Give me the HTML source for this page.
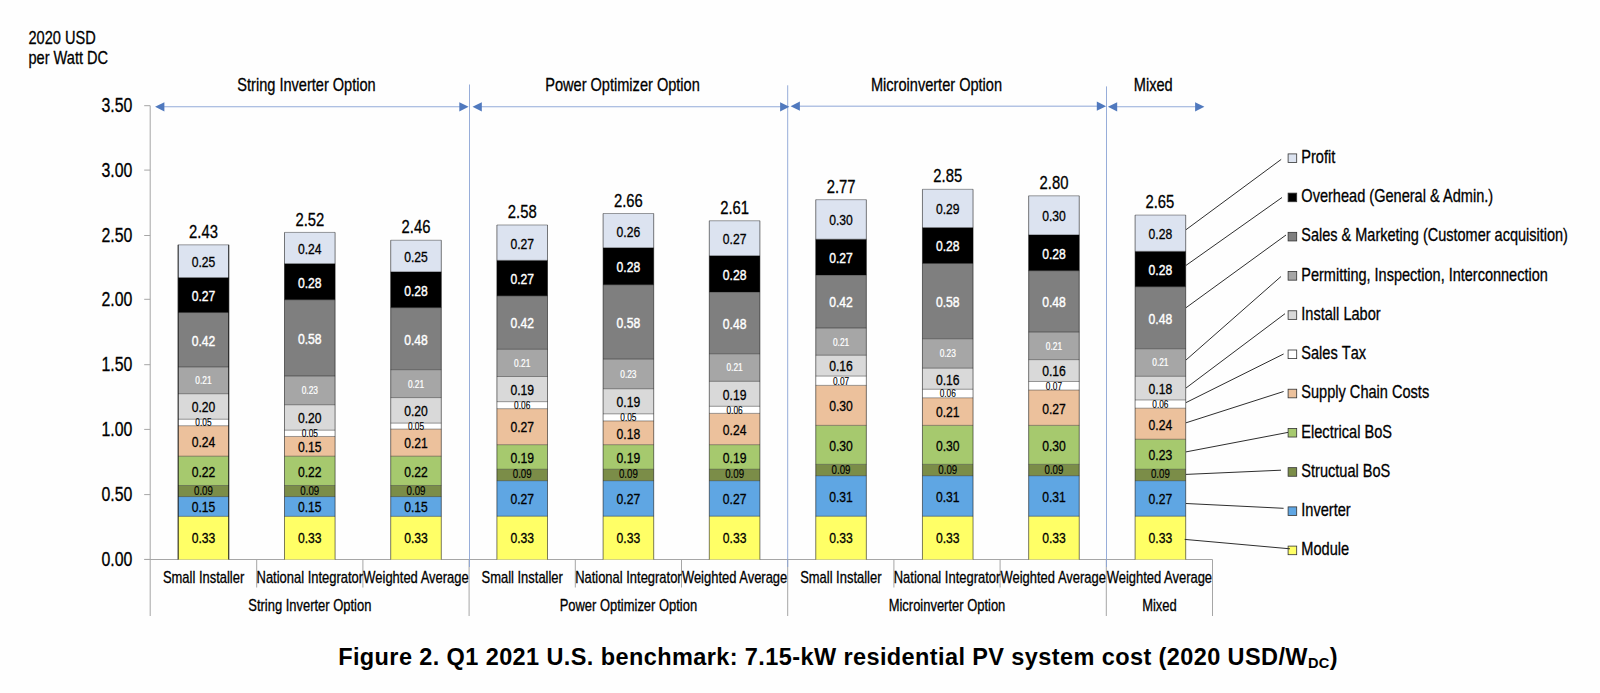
<!DOCTYPE html>
<html lang="en">
<head>
<meta charset="utf-8">
<title>Figure 2. Q1 2021 U.S. benchmark</title>
<style>
html,body{margin:0;padding:0;background:#fefefe;}
body{width:1600px;height:693px;overflow:hidden;}
svg{display:block;font-family:"Liberation Sans",sans-serif;}
</style>
</head>
<body>
<svg width="1600" height="693" viewBox="0 0 1600 693">
<rect width="1600" height="693" fill="#fefefe"/>
<text transform="translate(28.50 44.00) scale(0.81 1)" font-size="18" text-anchor="start" fill="#000" stroke="#000" stroke-width="0.3">2020 USD</text>
<text transform="translate(28.50 63.50) scale(0.81 1)" font-size="18" text-anchor="start" fill="#000" stroke="#000" stroke-width="0.3">per Watt DC</text>
<line x1="150.20" y1="105.70" x2="150.20" y2="616.00" stroke="#a6a6a6" stroke-width="1"/>
<line x1="144.20" y1="559.40" x2="150.20" y2="559.40" stroke="#a6a6a6" stroke-width="1"/>
<text transform="translate(132.40 566.00) scale(0.81 1)" font-size="19.6" text-anchor="end" fill="#000" stroke="#000" stroke-width="0.3">0.00</text>
<line x1="144.20" y1="494.60" x2="150.20" y2="494.60" stroke="#a6a6a6" stroke-width="1"/>
<text transform="translate(132.40 501.20) scale(0.81 1)" font-size="19.6" text-anchor="end" fill="#000" stroke="#000" stroke-width="0.3">0.50</text>
<line x1="144.20" y1="429.40" x2="150.20" y2="429.40" stroke="#a6a6a6" stroke-width="1"/>
<text transform="translate(132.40 436.00) scale(0.81 1)" font-size="19.6" text-anchor="end" fill="#000" stroke="#000" stroke-width="0.3">1.00</text>
<line x1="144.20" y1="364.70" x2="150.20" y2="364.70" stroke="#a6a6a6" stroke-width="1"/>
<text transform="translate(132.40 371.30) scale(0.81 1)" font-size="19.6" text-anchor="end" fill="#000" stroke="#000" stroke-width="0.3">1.50</text>
<line x1="144.20" y1="299.30" x2="150.20" y2="299.30" stroke="#a6a6a6" stroke-width="1"/>
<text transform="translate(132.40 305.90) scale(0.81 1)" font-size="19.6" text-anchor="end" fill="#000" stroke="#000" stroke-width="0.3">2.00</text>
<line x1="144.20" y1="235.50" x2="150.20" y2="235.50" stroke="#a6a6a6" stroke-width="1"/>
<text transform="translate(132.40 242.10) scale(0.81 1)" font-size="19.6" text-anchor="end" fill="#000" stroke="#000" stroke-width="0.3">2.50</text>
<line x1="144.20" y1="170.10" x2="150.20" y2="170.10" stroke="#a6a6a6" stroke-width="1"/>
<text transform="translate(132.40 176.70) scale(0.81 1)" font-size="19.6" text-anchor="end" fill="#000" stroke="#000" stroke-width="0.3">3.00</text>
<line x1="144.20" y1="105.70" x2="150.20" y2="105.70" stroke="#a6a6a6" stroke-width="1"/>
<text transform="translate(132.40 112.30) scale(0.81 1)" font-size="19.6" text-anchor="end" fill="#000" stroke="#000" stroke-width="0.3">3.50</text>
<line x1="144.50" y1="559.50" x2="1212.50" y2="559.50" stroke="#a6a6a6" stroke-width="1"/>
<line x1="256.70" y1="559.50" x2="256.70" y2="587.50" stroke="#a6a6a6" stroke-width="1"/>
<line x1="362.90" y1="559.50" x2="362.90" y2="587.50" stroke="#a6a6a6" stroke-width="1"/>
<line x1="469.10" y1="559.50" x2="469.10" y2="616.00" stroke="#a6a6a6" stroke-width="1"/>
<line x1="575.30" y1="559.50" x2="575.30" y2="587.50" stroke="#a6a6a6" stroke-width="1"/>
<line x1="681.50" y1="559.50" x2="681.50" y2="587.50" stroke="#a6a6a6" stroke-width="1"/>
<line x1="787.70" y1="559.50" x2="787.70" y2="616.00" stroke="#a6a6a6" stroke-width="1"/>
<line x1="893.90" y1="559.50" x2="893.90" y2="587.50" stroke="#a6a6a6" stroke-width="1"/>
<line x1="1000.10" y1="559.50" x2="1000.10" y2="587.50" stroke="#a6a6a6" stroke-width="1"/>
<line x1="1106.30" y1="559.50" x2="1106.30" y2="616.00" stroke="#a6a6a6" stroke-width="1"/>
<line x1="1212.50" y1="559.50" x2="1212.50" y2="616.00" stroke="#a6a6a6" stroke-width="1"/>
<line x1="469.50" y1="84.50" x2="469.50" y2="567.00" stroke="#8ba4d5" stroke-width="0.9"/>
<line x1="787.70" y1="85.30" x2="787.70" y2="567.00" stroke="#8ba4d5" stroke-width="0.9"/>
<line x1="1106.50" y1="86.40" x2="1106.50" y2="567.00" stroke="#8ba4d5" stroke-width="0.9"/>
<line x1="163.10" y1="106.80" x2="460.60" y2="106.80" stroke="#93abd9" stroke-width="1.1"/>
<path d="M155.10 106.80l9.3 -4.6v9.2z" fill="#5079be"/>
<path d="M468.60 106.80l-9.3 -4.6v9.2z" fill="#5079be"/>
<line x1="480.50" y1="106.80" x2="781.40" y2="106.80" stroke="#93abd9" stroke-width="1.1"/>
<path d="M472.50 106.80l9.3 -4.6v9.2z" fill="#5079be"/>
<path d="M789.40 106.80l-9.3 -4.6v9.2z" fill="#5079be"/>
<line x1="798.60" y1="106.20" x2="1098.10" y2="106.20" stroke="#b3c3e4" stroke-width="1.5"/>
<path d="M790.60 106.20l9.3 -4.6v9.2z" fill="#5079be"/>
<path d="M1106.10 106.20l-9.3 -4.6v9.2z" fill="#5079be"/>
<line x1="1115.90" y1="106.80" x2="1196.40" y2="106.80" stroke="#93abd9" stroke-width="1.1"/>
<path d="M1107.90 106.80l9.3 -4.6v9.2z" fill="#5079be"/>
<path d="M1204.40 106.80l-9.3 -4.6v9.2z" fill="#5079be"/>
<text transform="translate(306.50 91.30) scale(0.81 1)" font-size="18" text-anchor="middle" fill="#000" stroke="#000" stroke-width="0.3">String Inverter Option</text>
<text transform="translate(622.50 91.30) scale(0.81 1)" font-size="18" text-anchor="middle" fill="#000" stroke="#000" stroke-width="0.3">Power Optimizer Option</text>
<text transform="translate(936.50 91.30) scale(0.81 1)" font-size="18" text-anchor="middle" fill="#000" stroke="#000" stroke-width="0.3">Microinverter Option</text>
<text transform="translate(1153.20 91.30) scale(0.81 1)" font-size="18" text-anchor="middle" fill="#000" stroke="#000" stroke-width="0.3">Mixed</text>
<rect x="178.15" y="516.37" width="50.6" height="43.13" fill="#FFFF66"/>
<rect x="178.15" y="496.59" width="50.6" height="19.77" fill="#5FA6E3"/>
<rect x="178.15" y="485.49" width="50.6" height="11.11" fill="#7B8D48"/>
<rect x="178.15" y="456.19" width="50.6" height="29.29" fill="#A6C96E"/>
<rect x="178.15" y="425.72" width="50.6" height="30.48" fill="#ECC19C"/>
<rect x="178.15" y="419.24" width="50.6" height="6.48" fill="#FFFFFF"/>
<rect x="178.15" y="393.74" width="50.6" height="25.50" fill="#D9D9D9"/>
<rect x="178.15" y="366.94" width="50.6" height="26.80" fill="#A6A6A6"/>
<rect x="178.15" y="312.56" width="50.6" height="54.39" fill="#7F7F7F"/>
<rect x="178.15" y="277.59" width="50.6" height="34.96" fill="#000000"/>
<rect x="178.15" y="244.82" width="50.6" height="32.77" fill="#DCE3F0"/>
<path d="M178.15 516.37h50.6M178.15 496.59h50.6M178.15 485.49h50.6M178.15 456.19h50.6M178.15 425.72h50.6M178.15 419.24h50.6M178.15 393.74h50.6M178.15 366.94h50.6M178.15 312.56h50.6M178.15 277.59h50.6M178.15 244.82h50.6" fill="none" stroke="#000" stroke-opacity="0.55" stroke-width="0.7"/>
<path d="M178.15 559.5V244.82M228.75 559.5V244.82" fill="none" stroke="#000" stroke-opacity="0.95" stroke-width="1.0"/>
<text transform="translate(203.45 543.33) scale(0.81 1)" font-size="15" text-anchor="middle" fill="#000" stroke="#000" stroke-width="0.3">0.33</text>
<text transform="translate(203.45 512.28) scale(0.81 1)" font-size="15" text-anchor="middle" fill="#000" stroke="#000" stroke-width="0.3">0.15</text>
<text transform="translate(203.45 494.56) scale(0.81 1)" font-size="12" text-anchor="middle" fill="#000" stroke="#000" stroke-width="0.15">0.09</text>
<text transform="translate(203.45 476.64) scale(0.81 1)" font-size="15" text-anchor="middle" fill="#000" stroke="#000" stroke-width="0.3">0.22</text>
<text transform="translate(203.45 446.75) scale(0.81 1)" font-size="15" text-anchor="middle" fill="#000" stroke="#000" stroke-width="0.3">0.24</text>
<text transform="translate(203.45 426.39) scale(0.81 1)" font-size="10.3" text-anchor="middle" fill="#000" stroke="#000" stroke-width="0.12">0.05</text>
<text transform="translate(203.45 412.29) scale(0.81 1)" font-size="15" text-anchor="middle" fill="#000" stroke="#000" stroke-width="0.3">0.20</text>
<text transform="translate(203.45 384.25) scale(0.81 1)" font-size="10.3" text-anchor="middle" fill="#fff" stroke="#fff" stroke-width="0.25">0.21</text>
<text transform="translate(203.45 345.65) scale(0.81 1)" font-size="15" text-anchor="middle" fill="#fff" stroke="#fff" stroke-width="0.4">0.42</text>
<text transform="translate(203.45 300.97) scale(0.81 1)" font-size="15" text-anchor="middle" fill="#fff" stroke="#fff" stroke-width="0.4">0.27</text>
<text transform="translate(203.45 267.20) scale(0.81 1)" font-size="15" text-anchor="middle" fill="#000" stroke="#000" stroke-width="0.3">0.25</text>
<text transform="translate(203.45 237.92) scale(0.81 1)" font-size="18.3" text-anchor="middle" fill="#000" stroke="#000" stroke-width="0.3">2.43</text>
<text transform="translate(203.60 582.90) scale(0.81 1)" font-size="16" text-anchor="middle" fill="#000" stroke="#000" stroke-width="0.3">Small Installer</text>
<rect x="284.50" y="516.37" width="50.6" height="43.13" fill="#FFFF66"/>
<rect x="284.50" y="496.59" width="50.6" height="19.77" fill="#5FA6E3"/>
<rect x="284.50" y="485.49" width="50.6" height="11.11" fill="#7B8D48"/>
<rect x="284.50" y="456.19" width="50.6" height="29.29" fill="#A6C96E"/>
<rect x="284.50" y="436.47" width="50.6" height="19.73" fill="#ECC19C"/>
<rect x="284.50" y="430.19" width="50.6" height="6.28" fill="#FFFFFF"/>
<rect x="284.50" y="404.79" width="50.6" height="25.40" fill="#D9D9D9"/>
<rect x="284.50" y="376.01" width="50.6" height="28.78" fill="#A6A6A6"/>
<rect x="284.50" y="299.75" width="50.6" height="76.26" fill="#7F7F7F"/>
<rect x="284.50" y="263.64" width="50.6" height="36.11" fill="#000000"/>
<rect x="284.50" y="232.41" width="50.6" height="31.23" fill="#DCE3F0"/>
<path d="M284.50 516.37h50.6M284.50 496.59h50.6M284.50 485.49h50.6M284.50 456.19h50.6M284.50 436.47h50.6M284.50 430.19h50.6M284.50 404.79h50.6M284.50 376.01h50.6M284.50 299.75h50.6M284.50 263.64h50.6M284.50 232.41h50.6" fill="none" stroke="#000" stroke-opacity="0.55" stroke-width="0.7"/>
<path d="M284.50 559.5V232.41M335.10 559.5V232.41" fill="none" stroke="#000" stroke-opacity="0.65" stroke-width="0.8"/>
<text transform="translate(309.80 543.33) scale(0.81 1)" font-size="15" text-anchor="middle" fill="#000" stroke="#000" stroke-width="0.3">0.33</text>
<text transform="translate(309.80 512.28) scale(0.81 1)" font-size="15" text-anchor="middle" fill="#000" stroke="#000" stroke-width="0.3">0.15</text>
<text transform="translate(309.80 494.56) scale(0.81 1)" font-size="12" text-anchor="middle" fill="#000" stroke="#000" stroke-width="0.15">0.09</text>
<text transform="translate(309.80 476.64) scale(0.81 1)" font-size="15" text-anchor="middle" fill="#000" stroke="#000" stroke-width="0.3">0.22</text>
<text transform="translate(309.80 452.13) scale(0.81 1)" font-size="15" text-anchor="middle" fill="#000" stroke="#000" stroke-width="0.3">0.15</text>
<text transform="translate(309.80 437.24) scale(0.81 1)" font-size="10.3" text-anchor="middle" fill="#000" stroke="#000" stroke-width="0.12">0.05</text>
<text transform="translate(309.80 423.29) scale(0.81 1)" font-size="15" text-anchor="middle" fill="#000" stroke="#000" stroke-width="0.3">0.20</text>
<text transform="translate(309.80 394.31) scale(0.81 1)" font-size="10.3" text-anchor="middle" fill="#fff" stroke="#fff" stroke-width="0.25">0.23</text>
<text transform="translate(309.80 343.78) scale(0.81 1)" font-size="15" text-anchor="middle" fill="#fff" stroke="#fff" stroke-width="0.4">0.58</text>
<text transform="translate(309.80 287.59) scale(0.81 1)" font-size="15" text-anchor="middle" fill="#fff" stroke="#fff" stroke-width="0.4">0.28</text>
<text transform="translate(309.80 254.02) scale(0.81 1)" font-size="15" text-anchor="middle" fill="#000" stroke="#000" stroke-width="0.3">0.24</text>
<text transform="translate(309.80 225.51) scale(0.81 1)" font-size="18.3" text-anchor="middle" fill="#000" stroke="#000" stroke-width="0.3">2.52</text>
<text transform="translate(309.80 582.90) scale(0.81 1)" font-size="16" text-anchor="middle" fill="#000" stroke="#000" stroke-width="0.3">National Integrator</text>
<rect x="390.70" y="516.37" width="50.6" height="43.13" fill="#FFFF66"/>
<rect x="390.70" y="496.59" width="50.6" height="19.77" fill="#5FA6E3"/>
<rect x="390.70" y="485.49" width="50.6" height="11.11" fill="#7B8D48"/>
<rect x="390.70" y="456.19" width="50.6" height="29.29" fill="#A6C96E"/>
<rect x="390.70" y="429.10" width="50.6" height="27.09" fill="#ECC19C"/>
<rect x="390.70" y="423.13" width="50.6" height="5.97" fill="#FFFFFF"/>
<rect x="390.70" y="397.62" width="50.6" height="25.50" fill="#D9D9D9"/>
<rect x="390.70" y="369.68" width="50.6" height="27.94" fill="#A6A6A6"/>
<rect x="390.70" y="307.67" width="50.6" height="62.01" fill="#7F7F7F"/>
<rect x="390.70" y="271.81" width="50.6" height="35.86" fill="#000000"/>
<rect x="390.70" y="240.24" width="50.6" height="31.58" fill="#DCE3F0"/>
<path d="M390.70 516.37h50.6M390.70 496.59h50.6M390.70 485.49h50.6M390.70 456.19h50.6M390.70 429.10h50.6M390.70 423.13h50.6M390.70 397.62h50.6M390.70 369.68h50.6M390.70 307.67h50.6M390.70 271.81h50.6M390.70 240.24h50.6" fill="none" stroke="#000" stroke-opacity="0.55" stroke-width="0.7"/>
<path d="M390.70 559.5V240.24M441.30 559.5V240.24" fill="none" stroke="#000" stroke-opacity="0.65" stroke-width="0.8"/>
<text transform="translate(416.00 543.33) scale(0.81 1)" font-size="15" text-anchor="middle" fill="#000" stroke="#000" stroke-width="0.3">0.33</text>
<text transform="translate(416.00 512.28) scale(0.81 1)" font-size="15" text-anchor="middle" fill="#000" stroke="#000" stroke-width="0.3">0.15</text>
<text transform="translate(416.00 494.56) scale(0.81 1)" font-size="12" text-anchor="middle" fill="#000" stroke="#000" stroke-width="0.15">0.09</text>
<text transform="translate(416.00 476.64) scale(0.81 1)" font-size="15" text-anchor="middle" fill="#000" stroke="#000" stroke-width="0.3">0.22</text>
<text transform="translate(416.00 448.45) scale(0.81 1)" font-size="15" text-anchor="middle" fill="#000" stroke="#000" stroke-width="0.3">0.21</text>
<text transform="translate(416.00 430.02) scale(0.81 1)" font-size="10.3" text-anchor="middle" fill="#000" stroke="#000" stroke-width="0.12">0.05</text>
<text transform="translate(416.00 416.17) scale(0.81 1)" font-size="15" text-anchor="middle" fill="#000" stroke="#000" stroke-width="0.3">0.20</text>
<text transform="translate(416.00 387.56) scale(0.81 1)" font-size="10.3" text-anchor="middle" fill="#fff" stroke="#fff" stroke-width="0.25">0.21</text>
<text transform="translate(416.00 344.58) scale(0.81 1)" font-size="15" text-anchor="middle" fill="#fff" stroke="#fff" stroke-width="0.4">0.48</text>
<text transform="translate(416.00 295.64) scale(0.81 1)" font-size="15" text-anchor="middle" fill="#fff" stroke="#fff" stroke-width="0.4">0.28</text>
<text transform="translate(416.00 262.02) scale(0.81 1)" font-size="15" text-anchor="middle" fill="#000" stroke="#000" stroke-width="0.3">0.25</text>
<text transform="translate(416.00 233.34) scale(0.81 1)" font-size="18.3" text-anchor="middle" fill="#000" stroke="#000" stroke-width="0.3">2.46</text>
<text transform="translate(416.00 582.90) scale(0.81 1)" font-size="16" text-anchor="middle" fill="#000" stroke="#000" stroke-width="0.3">Weighted Average</text>
<rect x="496.90" y="516.22" width="50.6" height="43.28" fill="#FFFF66"/>
<rect x="496.90" y="480.70" width="50.6" height="35.52" fill="#5FA6E3"/>
<rect x="496.90" y="469.25" width="50.6" height="11.45" fill="#7B8D48"/>
<rect x="496.90" y="444.69" width="50.6" height="24.56" fill="#A6C96E"/>
<rect x="496.90" y="408.68" width="50.6" height="36.01" fill="#ECC19C"/>
<rect x="496.90" y="401.70" width="50.6" height="6.97" fill="#FFFFFF"/>
<rect x="496.90" y="376.50" width="50.6" height="25.20" fill="#D9D9D9"/>
<rect x="496.90" y="349.31" width="50.6" height="27.19" fill="#A6A6A6"/>
<rect x="496.90" y="295.86" width="50.6" height="53.44" fill="#7F7F7F"/>
<rect x="496.90" y="260.35" width="50.6" height="35.51" fill="#000000"/>
<rect x="496.90" y="224.98" width="50.6" height="35.37" fill="#DCE3F0"/>
<path d="M496.90 516.22h50.6M496.90 480.70h50.6M496.90 469.25h50.6M496.90 444.69h50.6M496.90 408.68h50.6M496.90 401.70h50.6M496.90 376.50h50.6M496.90 349.31h50.6M496.90 295.86h50.6M496.90 260.35h50.6M496.90 224.98h50.6" fill="none" stroke="#000" stroke-opacity="0.55" stroke-width="0.7"/>
<path d="M496.90 559.5V224.98M547.50 559.5V224.98" fill="none" stroke="#000" stroke-opacity="0.65" stroke-width="0.8"/>
<text transform="translate(522.20 543.26) scale(0.81 1)" font-size="15" text-anchor="middle" fill="#000" stroke="#000" stroke-width="0.3">0.33</text>
<text transform="translate(522.20 504.26) scale(0.81 1)" font-size="15" text-anchor="middle" fill="#000" stroke="#000" stroke-width="0.3">0.27</text>
<text transform="translate(522.20 478.49) scale(0.81 1)" font-size="12" text-anchor="middle" fill="#000" stroke="#000" stroke-width="0.15">0.09</text>
<text transform="translate(522.20 462.77) scale(0.81 1)" font-size="15" text-anchor="middle" fill="#000" stroke="#000" stroke-width="0.3">0.19</text>
<text transform="translate(522.20 432.48) scale(0.81 1)" font-size="15" text-anchor="middle" fill="#000" stroke="#000" stroke-width="0.3">0.27</text>
<text transform="translate(522.20 409.10) scale(0.81 1)" font-size="10.3" text-anchor="middle" fill="#000" stroke="#000" stroke-width="0.12">0.06</text>
<text transform="translate(522.20 394.90) scale(0.81 1)" font-size="15" text-anchor="middle" fill="#000" stroke="#000" stroke-width="0.3">0.19</text>
<text transform="translate(522.20 366.81) scale(0.81 1)" font-size="10.3" text-anchor="middle" fill="#fff" stroke="#fff" stroke-width="0.25">0.21</text>
<text transform="translate(522.20 328.48) scale(0.81 1)" font-size="15" text-anchor="middle" fill="#fff" stroke="#fff" stroke-width="0.4">0.42</text>
<text transform="translate(522.20 284.01) scale(0.81 1)" font-size="15" text-anchor="middle" fill="#fff" stroke="#fff" stroke-width="0.4">0.27</text>
<text transform="translate(522.20 248.67) scale(0.81 1)" font-size="15" text-anchor="middle" fill="#000" stroke="#000" stroke-width="0.3">0.27</text>
<text transform="translate(522.20 218.08) scale(0.81 1)" font-size="18.3" text-anchor="middle" fill="#000" stroke="#000" stroke-width="0.3">2.58</text>
<text transform="translate(522.20 582.90) scale(0.81 1)" font-size="16" text-anchor="middle" fill="#000" stroke="#000" stroke-width="0.3">Small Installer</text>
<rect x="603.10" y="516.22" width="50.6" height="43.28" fill="#FFFF66"/>
<rect x="603.10" y="480.70" width="50.6" height="35.52" fill="#5FA6E3"/>
<rect x="603.10" y="469.25" width="50.6" height="11.45" fill="#7B8D48"/>
<rect x="603.10" y="444.69" width="50.6" height="24.56" fill="#A6C96E"/>
<rect x="603.10" y="420.93" width="50.6" height="23.76" fill="#ECC19C"/>
<rect x="603.10" y="413.86" width="50.6" height="7.07" fill="#FFFFFF"/>
<rect x="603.10" y="388.75" width="50.6" height="25.11" fill="#D9D9D9"/>
<rect x="603.10" y="359.12" width="50.6" height="29.63" fill="#A6A6A6"/>
<rect x="603.10" y="284.75" width="50.6" height="74.36" fill="#7F7F7F"/>
<rect x="603.10" y="247.75" width="50.6" height="37.01" fill="#000000"/>
<rect x="603.10" y="213.53" width="50.6" height="34.22" fill="#DCE3F0"/>
<path d="M603.10 516.22h50.6M603.10 480.70h50.6M603.10 469.25h50.6M603.10 444.69h50.6M603.10 420.93h50.6M603.10 413.86h50.6M603.10 388.75h50.6M603.10 359.12h50.6M603.10 284.75h50.6M603.10 247.75h50.6M603.10 213.53h50.6" fill="none" stroke="#000" stroke-opacity="0.55" stroke-width="0.7"/>
<path d="M603.10 559.5V213.53M653.70 559.5V213.53" fill="none" stroke="#000" stroke-opacity="0.65" stroke-width="0.8"/>
<text transform="translate(628.40 543.26) scale(0.81 1)" font-size="15" text-anchor="middle" fill="#000" stroke="#000" stroke-width="0.3">0.33</text>
<text transform="translate(628.40 504.26) scale(0.81 1)" font-size="15" text-anchor="middle" fill="#000" stroke="#000" stroke-width="0.3">0.27</text>
<text transform="translate(628.40 478.49) scale(0.81 1)" font-size="12" text-anchor="middle" fill="#000" stroke="#000" stroke-width="0.15">0.09</text>
<text transform="translate(628.40 462.77) scale(0.81 1)" font-size="15" text-anchor="middle" fill="#000" stroke="#000" stroke-width="0.3">0.19</text>
<text transform="translate(628.40 438.61) scale(0.81 1)" font-size="15" text-anchor="middle" fill="#000" stroke="#000" stroke-width="0.3">0.18</text>
<text transform="translate(628.40 421.30) scale(0.81 1)" font-size="10.3" text-anchor="middle" fill="#000" stroke="#000" stroke-width="0.12">0.05</text>
<text transform="translate(628.40 407.10) scale(0.81 1)" font-size="15" text-anchor="middle" fill="#000" stroke="#000" stroke-width="0.3">0.19</text>
<text transform="translate(628.40 377.84) scale(0.81 1)" font-size="10.3" text-anchor="middle" fill="#fff" stroke="#fff" stroke-width="0.25">0.23</text>
<text transform="translate(628.40 327.83) scale(0.81 1)" font-size="15" text-anchor="middle" fill="#fff" stroke="#fff" stroke-width="0.4">0.58</text>
<text transform="translate(628.40 272.15) scale(0.81 1)" font-size="15" text-anchor="middle" fill="#fff" stroke="#fff" stroke-width="0.4">0.28</text>
<text transform="translate(628.40 236.64) scale(0.81 1)" font-size="15" text-anchor="middle" fill="#000" stroke="#000" stroke-width="0.3">0.26</text>
<text transform="translate(628.40 206.63) scale(0.81 1)" font-size="18.3" text-anchor="middle" fill="#000" stroke="#000" stroke-width="0.3">2.66</text>
<text transform="translate(628.40 582.90) scale(0.81 1)" font-size="16" text-anchor="middle" fill="#000" stroke="#000" stroke-width="0.3">National Integrator</text>
<rect x="709.30" y="516.22" width="50.6" height="43.28" fill="#FFFF66"/>
<rect x="709.30" y="480.70" width="50.6" height="35.52" fill="#5FA6E3"/>
<rect x="709.30" y="469.25" width="50.6" height="11.45" fill="#7B8D48"/>
<rect x="709.30" y="444.69" width="50.6" height="24.56" fill="#A6C96E"/>
<rect x="709.30" y="413.36" width="50.6" height="31.33" fill="#ECC19C"/>
<rect x="709.30" y="406.29" width="50.6" height="7.07" fill="#FFFFFF"/>
<rect x="709.30" y="381.33" width="50.6" height="24.95" fill="#D9D9D9"/>
<rect x="709.30" y="353.79" width="50.6" height="27.55" fill="#A6A6A6"/>
<rect x="709.30" y="291.98" width="50.6" height="61.81" fill="#7F7F7F"/>
<rect x="709.30" y="255.72" width="50.6" height="36.26" fill="#000000"/>
<rect x="709.30" y="220.75" width="50.6" height="34.97" fill="#DCE3F0"/>
<path d="M709.30 516.22h50.6M709.30 480.70h50.6M709.30 469.25h50.6M709.30 444.69h50.6M709.30 413.36h50.6M709.30 406.29h50.6M709.30 381.33h50.6M709.30 353.79h50.6M709.30 291.98h50.6M709.30 255.72h50.6M709.30 220.75h50.6" fill="none" stroke="#000" stroke-opacity="0.55" stroke-width="0.7"/>
<path d="M709.30 559.5V220.75M759.90 559.5V220.75" fill="none" stroke="#000" stroke-opacity="0.65" stroke-width="0.8"/>
<text transform="translate(734.60 543.26) scale(0.81 1)" font-size="15" text-anchor="middle" fill="#000" stroke="#000" stroke-width="0.3">0.33</text>
<text transform="translate(734.60 504.26) scale(0.81 1)" font-size="15" text-anchor="middle" fill="#000" stroke="#000" stroke-width="0.3">0.27</text>
<text transform="translate(734.60 478.49) scale(0.81 1)" font-size="12" text-anchor="middle" fill="#000" stroke="#000" stroke-width="0.15">0.09</text>
<text transform="translate(734.60 462.77) scale(0.81 1)" font-size="15" text-anchor="middle" fill="#000" stroke="#000" stroke-width="0.3">0.19</text>
<text transform="translate(734.60 434.82) scale(0.81 1)" font-size="15" text-anchor="middle" fill="#000" stroke="#000" stroke-width="0.3">0.24</text>
<text transform="translate(734.60 413.73) scale(0.81 1)" font-size="10.3" text-anchor="middle" fill="#000" stroke="#000" stroke-width="0.12">0.06</text>
<text transform="translate(734.60 399.61) scale(0.81 1)" font-size="15" text-anchor="middle" fill="#000" stroke="#000" stroke-width="0.3">0.19</text>
<text transform="translate(734.60 371.47) scale(0.81 1)" font-size="10.3" text-anchor="middle" fill="#fff" stroke="#fff" stroke-width="0.25">0.21</text>
<text transform="translate(734.60 328.78) scale(0.81 1)" font-size="15" text-anchor="middle" fill="#fff" stroke="#fff" stroke-width="0.4">0.48</text>
<text transform="translate(734.60 279.75) scale(0.81 1)" font-size="15" text-anchor="middle" fill="#fff" stroke="#fff" stroke-width="0.4">0.28</text>
<text transform="translate(734.60 244.24) scale(0.81 1)" font-size="15" text-anchor="middle" fill="#000" stroke="#000" stroke-width="0.3">0.27</text>
<text transform="translate(734.60 213.85) scale(0.81 1)" font-size="18.3" text-anchor="middle" fill="#000" stroke="#000" stroke-width="0.3">2.61</text>
<text transform="translate(734.60 582.90) scale(0.81 1)" font-size="16" text-anchor="middle" fill="#000" stroke="#000" stroke-width="0.3">Weighted Average</text>
<rect x="815.75" y="516.26" width="50.6" height="43.24" fill="#FFFF66"/>
<rect x="815.75" y="475.72" width="50.6" height="40.54" fill="#5FA6E3"/>
<rect x="815.75" y="464.37" width="50.6" height="11.36" fill="#7B8D48"/>
<rect x="815.75" y="425.37" width="50.6" height="39.00" fill="#A6C96E"/>
<rect x="815.75" y="385.37" width="50.6" height="40.00" fill="#ECC19C"/>
<rect x="815.75" y="376.10" width="50.6" height="9.27" fill="#FFFFFF"/>
<rect x="815.75" y="355.23" width="50.6" height="20.87" fill="#D9D9D9"/>
<rect x="815.75" y="328.03" width="50.6" height="27.20" fill="#A6A6A6"/>
<rect x="815.75" y="275.00" width="50.6" height="53.04" fill="#7F7F7F"/>
<rect x="815.75" y="239.23" width="50.6" height="35.76" fill="#000000"/>
<rect x="815.75" y="199.68" width="50.6" height="39.55" fill="#DCE3F0"/>
<path d="M815.75 516.26h50.6M815.75 475.72h50.6M815.75 464.37h50.6M815.75 425.37h50.6M815.75 385.37h50.6M815.75 376.10h50.6M815.75 355.23h50.6M815.75 328.03h50.6M815.75 275.00h50.6M815.75 239.23h50.6M815.75 199.68h50.6" fill="none" stroke="#000" stroke-opacity="0.55" stroke-width="0.7"/>
<path d="M815.75 559.5V199.68M866.35 559.5V199.68" fill="none" stroke="#000" stroke-opacity="0.65" stroke-width="0.8"/>
<text transform="translate(841.05 543.28) scale(0.81 1)" font-size="15" text-anchor="middle" fill="#000" stroke="#000" stroke-width="0.3">0.33</text>
<text transform="translate(841.05 501.79) scale(0.81 1)" font-size="15" text-anchor="middle" fill="#000" stroke="#000" stroke-width="0.3">0.31</text>
<text transform="translate(841.05 473.56) scale(0.81 1)" font-size="12" text-anchor="middle" fill="#000" stroke="#000" stroke-width="0.15">0.09</text>
<text transform="translate(841.05 450.66) scale(0.81 1)" font-size="15" text-anchor="middle" fill="#000" stroke="#000" stroke-width="0.3">0.30</text>
<text transform="translate(841.05 411.16) scale(0.81 1)" font-size="15" text-anchor="middle" fill="#000" stroke="#000" stroke-width="0.3">0.30</text>
<text transform="translate(841.05 384.64) scale(0.81 1)" font-size="10.3" text-anchor="middle" fill="#000" stroke="#000" stroke-width="0.12">0.07</text>
<text transform="translate(841.05 371.46) scale(0.81 1)" font-size="15" text-anchor="middle" fill="#000" stroke="#000" stroke-width="0.3">0.16</text>
<text transform="translate(841.05 345.54) scale(0.81 1)" font-size="10.3" text-anchor="middle" fill="#fff" stroke="#fff" stroke-width="0.25">0.21</text>
<text transform="translate(841.05 307.41) scale(0.81 1)" font-size="15" text-anchor="middle" fill="#fff" stroke="#fff" stroke-width="0.4">0.42</text>
<text transform="translate(841.05 263.01) scale(0.81 1)" font-size="15" text-anchor="middle" fill="#fff" stroke="#fff" stroke-width="0.4">0.27</text>
<text transform="translate(841.05 225.46) scale(0.81 1)" font-size="15" text-anchor="middle" fill="#000" stroke="#000" stroke-width="0.3">0.30</text>
<text transform="translate(841.05 192.78) scale(0.81 1)" font-size="18.3" text-anchor="middle" fill="#000" stroke="#000" stroke-width="0.3">2.77</text>
<text transform="translate(840.80 582.90) scale(0.81 1)" font-size="16" text-anchor="middle" fill="#000" stroke="#000" stroke-width="0.3">Small Installer</text>
<rect x="922.45" y="516.26" width="50.6" height="43.24" fill="#FFFF66"/>
<rect x="922.45" y="475.72" width="50.6" height="40.54" fill="#5FA6E3"/>
<rect x="922.45" y="464.37" width="50.6" height="11.36" fill="#7B8D48"/>
<rect x="922.45" y="425.37" width="50.6" height="39.00" fill="#A6C96E"/>
<rect x="922.45" y="397.82" width="50.6" height="27.55" fill="#ECC19C"/>
<rect x="922.45" y="389.25" width="50.6" height="8.57" fill="#FFFFFF"/>
<rect x="922.45" y="368.18" width="50.6" height="21.07" fill="#D9D9D9"/>
<rect x="922.45" y="338.75" width="50.6" height="29.44" fill="#A6A6A6"/>
<rect x="922.45" y="263.44" width="50.6" height="75.31" fill="#7F7F7F"/>
<rect x="922.45" y="227.58" width="50.6" height="35.86" fill="#000000"/>
<rect x="922.45" y="189.32" width="50.6" height="38.26" fill="#DCE3F0"/>
<path d="M922.45 516.26h50.6M922.45 475.72h50.6M922.45 464.37h50.6M922.45 425.37h50.6M922.45 397.82h50.6M922.45 389.25h50.6M922.45 368.18h50.6M922.45 338.75h50.6M922.45 263.44h50.6M922.45 227.58h50.6M922.45 189.32h50.6" fill="none" stroke="#000" stroke-opacity="0.55" stroke-width="0.7"/>
<path d="M922.45 559.5V189.32M973.05 559.5V189.32" fill="none" stroke="#000" stroke-opacity="0.65" stroke-width="0.8"/>
<text transform="translate(947.75 543.28) scale(0.81 1)" font-size="15" text-anchor="middle" fill="#000" stroke="#000" stroke-width="0.3">0.33</text>
<text transform="translate(947.75 501.79) scale(0.81 1)" font-size="15" text-anchor="middle" fill="#000" stroke="#000" stroke-width="0.3">0.31</text>
<text transform="translate(947.75 473.56) scale(0.81 1)" font-size="12" text-anchor="middle" fill="#000" stroke="#000" stroke-width="0.15">0.09</text>
<text transform="translate(947.75 450.66) scale(0.81 1)" font-size="15" text-anchor="middle" fill="#000" stroke="#000" stroke-width="0.3">0.30</text>
<text transform="translate(947.75 417.39) scale(0.81 1)" font-size="15" text-anchor="middle" fill="#000" stroke="#000" stroke-width="0.3">0.21</text>
<text transform="translate(947.75 397.44) scale(0.81 1)" font-size="10.3" text-anchor="middle" fill="#000" stroke="#000" stroke-width="0.12">0.06</text>
<text transform="translate(947.75 384.51) scale(0.81 1)" font-size="15" text-anchor="middle" fill="#000" stroke="#000" stroke-width="0.3">0.16</text>
<text transform="translate(947.75 357.37) scale(0.81 1)" font-size="10.3" text-anchor="middle" fill="#fff" stroke="#fff" stroke-width="0.25">0.23</text>
<text transform="translate(947.75 306.99) scale(0.81 1)" font-size="15" text-anchor="middle" fill="#fff" stroke="#fff" stroke-width="0.4">0.58</text>
<text transform="translate(947.75 251.41) scale(0.81 1)" font-size="15" text-anchor="middle" fill="#fff" stroke="#fff" stroke-width="0.4">0.28</text>
<text transform="translate(947.75 214.45) scale(0.81 1)" font-size="15" text-anchor="middle" fill="#000" stroke="#000" stroke-width="0.3">0.29</text>
<text transform="translate(947.75 182.42) scale(0.81 1)" font-size="18.3" text-anchor="middle" fill="#000" stroke="#000" stroke-width="0.3">2.85</text>
<text transform="translate(947.00 582.90) scale(0.81 1)" font-size="16" text-anchor="middle" fill="#000" stroke="#000" stroke-width="0.3">National Integrator</text>
<rect x="1028.65" y="516.26" width="50.6" height="43.24" fill="#FFFF66"/>
<rect x="1028.65" y="475.72" width="50.6" height="40.54" fill="#5FA6E3"/>
<rect x="1028.65" y="464.37" width="50.6" height="11.36" fill="#7B8D48"/>
<rect x="1028.65" y="425.37" width="50.6" height="39.00" fill="#A6C96E"/>
<rect x="1028.65" y="390.05" width="50.6" height="35.32" fill="#ECC19C"/>
<rect x="1028.65" y="381.48" width="50.6" height="8.56" fill="#FFFFFF"/>
<rect x="1028.65" y="359.67" width="50.6" height="21.82" fill="#D9D9D9"/>
<rect x="1028.65" y="332.07" width="50.6" height="27.60" fill="#A6A6A6"/>
<rect x="1028.65" y="270.71" width="50.6" height="61.36" fill="#7F7F7F"/>
<rect x="1028.65" y="234.85" width="50.6" height="35.86" fill="#000000"/>
<rect x="1028.65" y="195.80" width="50.6" height="39.05" fill="#DCE3F0"/>
<path d="M1028.65 516.26h50.6M1028.65 475.72h50.6M1028.65 464.37h50.6M1028.65 425.37h50.6M1028.65 390.05h50.6M1028.65 381.48h50.6M1028.65 359.67h50.6M1028.65 332.07h50.6M1028.65 270.71h50.6M1028.65 234.85h50.6M1028.65 195.80h50.6" fill="none" stroke="#000" stroke-opacity="0.55" stroke-width="0.7"/>
<path d="M1028.65 559.5V195.80M1079.25 559.5V195.80" fill="none" stroke="#000" stroke-opacity="0.65" stroke-width="0.8"/>
<text transform="translate(1053.95 543.28) scale(0.81 1)" font-size="15" text-anchor="middle" fill="#000" stroke="#000" stroke-width="0.3">0.33</text>
<text transform="translate(1053.95 501.79) scale(0.81 1)" font-size="15" text-anchor="middle" fill="#000" stroke="#000" stroke-width="0.3">0.31</text>
<text transform="translate(1053.95 473.56) scale(0.81 1)" font-size="12" text-anchor="middle" fill="#000" stroke="#000" stroke-width="0.15">0.09</text>
<text transform="translate(1053.95 450.66) scale(0.81 1)" font-size="15" text-anchor="middle" fill="#000" stroke="#000" stroke-width="0.3">0.30</text>
<text transform="translate(1053.95 413.51) scale(0.81 1)" font-size="15" text-anchor="middle" fill="#000" stroke="#000" stroke-width="0.3">0.27</text>
<text transform="translate(1053.95 389.68) scale(0.81 1)" font-size="10.3" text-anchor="middle" fill="#000" stroke="#000" stroke-width="0.12">0.07</text>
<text transform="translate(1053.95 376.37) scale(0.81 1)" font-size="15" text-anchor="middle" fill="#000" stroke="#000" stroke-width="0.3">0.16</text>
<text transform="translate(1053.95 349.78) scale(0.81 1)" font-size="10.3" text-anchor="middle" fill="#fff" stroke="#fff" stroke-width="0.25">0.21</text>
<text transform="translate(1053.95 307.29) scale(0.81 1)" font-size="15" text-anchor="middle" fill="#fff" stroke="#fff" stroke-width="0.4">0.48</text>
<text transform="translate(1053.95 258.68) scale(0.81 1)" font-size="15" text-anchor="middle" fill="#fff" stroke="#fff" stroke-width="0.4">0.28</text>
<text transform="translate(1053.95 221.33) scale(0.81 1)" font-size="15" text-anchor="middle" fill="#000" stroke="#000" stroke-width="0.3">0.30</text>
<text transform="translate(1053.95 188.90) scale(0.81 1)" font-size="18.3" text-anchor="middle" fill="#000" stroke="#000" stroke-width="0.3">2.80</text>
<text transform="translate(1053.20 582.90) scale(0.81 1)" font-size="16" text-anchor="middle" fill="#000" stroke="#000" stroke-width="0.3">Weighted Average</text>
<rect x="1135.10" y="516.22" width="50.6" height="43.28" fill="#FFFF66"/>
<rect x="1135.10" y="480.70" width="50.6" height="35.52" fill="#5FA6E3"/>
<rect x="1135.10" y="469.25" width="50.6" height="11.45" fill="#7B8D48"/>
<rect x="1135.10" y="439.26" width="50.6" height="29.99" fill="#A6C96E"/>
<rect x="1135.10" y="408.18" width="50.6" height="31.08" fill="#ECC19C"/>
<rect x="1135.10" y="400.01" width="50.6" height="8.17" fill="#FFFFFF"/>
<rect x="1135.10" y="376.30" width="50.6" height="23.71" fill="#D9D9D9"/>
<rect x="1135.10" y="348.75" width="50.6" height="27.55" fill="#A6A6A6"/>
<rect x="1135.10" y="286.75" width="50.6" height="62.01" fill="#7F7F7F"/>
<rect x="1135.10" y="251.33" width="50.6" height="35.41" fill="#000000"/>
<rect x="1135.10" y="215.07" width="50.6" height="36.26" fill="#DCE3F0"/>
<path d="M1135.10 516.22h50.6M1135.10 480.70h50.6M1135.10 469.25h50.6M1135.10 439.26h50.6M1135.10 408.18h50.6M1135.10 400.01h50.6M1135.10 376.30h50.6M1135.10 348.75h50.6M1135.10 286.75h50.6M1135.10 251.33h50.6M1135.10 215.07h50.6" fill="none" stroke="#000" stroke-opacity="0.55" stroke-width="0.7"/>
<path d="M1135.10 559.5V215.07M1185.70 559.5V215.07" fill="none" stroke="#000" stroke-opacity="0.65" stroke-width="0.8"/>
<text transform="translate(1160.40 543.26) scale(0.81 1)" font-size="15" text-anchor="middle" fill="#000" stroke="#000" stroke-width="0.3">0.33</text>
<text transform="translate(1160.40 504.26) scale(0.81 1)" font-size="15" text-anchor="middle" fill="#000" stroke="#000" stroke-width="0.3">0.27</text>
<text transform="translate(1160.40 478.49) scale(0.81 1)" font-size="12" text-anchor="middle" fill="#000" stroke="#000" stroke-width="0.15">0.09</text>
<text transform="translate(1160.40 460.05) scale(0.81 1)" font-size="15" text-anchor="middle" fill="#000" stroke="#000" stroke-width="0.3">0.23</text>
<text transform="translate(1160.40 429.52) scale(0.81 1)" font-size="15" text-anchor="middle" fill="#000" stroke="#000" stroke-width="0.3">0.24</text>
<text transform="translate(1160.40 408.00) scale(0.81 1)" font-size="10.3" text-anchor="middle" fill="#000" stroke="#000" stroke-width="0.12">0.06</text>
<text transform="translate(1160.40 393.95) scale(0.81 1)" font-size="15" text-anchor="middle" fill="#000" stroke="#000" stroke-width="0.3">0.18</text>
<text transform="translate(1160.40 366.44) scale(0.81 1)" font-size="10.3" text-anchor="middle" fill="#fff" stroke="#fff" stroke-width="0.25">0.21</text>
<text transform="translate(1160.40 323.65) scale(0.81 1)" font-size="15" text-anchor="middle" fill="#fff" stroke="#fff" stroke-width="0.4">0.48</text>
<text transform="translate(1160.40 274.94) scale(0.81 1)" font-size="15" text-anchor="middle" fill="#fff" stroke="#fff" stroke-width="0.4">0.28</text>
<text transform="translate(1160.40 239.20) scale(0.81 1)" font-size="15" text-anchor="middle" fill="#000" stroke="#000" stroke-width="0.3">0.28</text>
<text transform="translate(1159.90 208.17) scale(0.81 1)" font-size="18.3" text-anchor="middle" fill="#000" stroke="#000" stroke-width="0.3">2.65</text>
<text transform="translate(1159.40 582.90) scale(0.81 1)" font-size="16" text-anchor="middle" fill="#000" stroke="#000" stroke-width="0.3">Weighted Average</text>
<text transform="translate(309.80 611.30) scale(0.81 1)" font-size="16" text-anchor="middle" fill="#000" stroke="#000" stroke-width="0.3">String Inverter Option</text>
<text transform="translate(628.40 611.30) scale(0.81 1)" font-size="16" text-anchor="middle" fill="#000" stroke="#000" stroke-width="0.3">Power Optimizer Option</text>
<text transform="translate(947.00 611.30) scale(0.81 1)" font-size="16" text-anchor="middle" fill="#000" stroke="#000" stroke-width="0.3">Microinverter Option</text>
<text transform="translate(1159.40 611.30) scale(0.81 1)" font-size="16" text-anchor="middle" fill="#000" stroke="#000" stroke-width="0.3">Mixed</text>
<rect x="1288.1" y="153.90" width="8.6" height="8.6" fill="#DCE3F0" stroke="#333" stroke-width="0.8"/>
<text transform="translate(1301.30 163.40) scale(0.81 1)" font-size="18" text-anchor="start" fill="#000" stroke="#000" stroke-width="0.3">Profit</text>
<rect x="1288.1" y="193.12" width="8.6" height="8.6" fill="#000000" stroke="#333" stroke-width="0.8"/>
<text transform="translate(1301.30 202.22) scale(0.81 1)" font-size="18" text-anchor="start" fill="#000" stroke="#000" stroke-width="0.3">Overhead (General &amp; Admin.)</text>
<rect x="1288.1" y="232.34" width="8.6" height="8.6" fill="#7F7F7F" stroke="#333" stroke-width="0.8"/>
<text transform="translate(1301.30 241.44) scale(0.806 1)" font-size="18" text-anchor="start" fill="#000" stroke="#000" stroke-width="0.3">Sales &amp; Marketing (Customer acquisition)</text>
<rect x="1288.1" y="271.56" width="8.6" height="8.6" fill="#A6A6A6" stroke="#333" stroke-width="0.8"/>
<text transform="translate(1301.30 280.66) scale(0.806 1)" font-size="18" text-anchor="start" fill="#000" stroke="#000" stroke-width="0.3">Permitting, Inspection, Interconnection</text>
<rect x="1288.1" y="310.78" width="8.6" height="8.6" fill="#D9D9D9" stroke="#333" stroke-width="0.8"/>
<text transform="translate(1301.30 319.88) scale(0.81 1)" font-size="18" text-anchor="start" fill="#000" stroke="#000" stroke-width="0.3">Install Labor</text>
<rect x="1288.1" y="350.00" width="8.6" height="8.6" fill="#FFFFFF" stroke="#333" stroke-width="0.8"/>
<text transform="translate(1301.30 359.10) scale(0.81 1)" font-size="18" text-anchor="start" fill="#000" stroke="#000" stroke-width="0.3" style="font-kerning:none">Sales Tax</text>
<rect x="1288.1" y="389.22" width="8.6" height="8.6" fill="#ECC19C" stroke="#333" stroke-width="0.8"/>
<text transform="translate(1301.30 398.32) scale(0.81 1)" font-size="18" text-anchor="start" fill="#000" stroke="#000" stroke-width="0.3">Supply Chain Costs</text>
<rect x="1288.1" y="428.44" width="8.6" height="8.6" fill="#A6C96E" stroke="#333" stroke-width="0.8"/>
<text transform="translate(1301.30 437.54) scale(0.81 1)" font-size="18" text-anchor="start" fill="#000" stroke="#000" stroke-width="0.3">Electrical BoS</text>
<rect x="1288.1" y="467.66" width="8.6" height="8.6" fill="#7B8D48" stroke="#333" stroke-width="0.8"/>
<text transform="translate(1301.30 476.76) scale(0.81 1)" font-size="18" text-anchor="start" fill="#000" stroke="#000" stroke-width="0.3">Structual BoS</text>
<rect x="1288.1" y="506.88" width="8.6" height="8.6" fill="#5FA6E3" stroke="#333" stroke-width="0.8"/>
<text transform="translate(1301.30 515.98) scale(0.81 1)" font-size="18" text-anchor="start" fill="#000" stroke="#000" stroke-width="0.3">Inverter</text>
<rect x="1288.1" y="546.10" width="8.6" height="8.6" fill="#FFFF66" stroke="#333" stroke-width="0.8"/>
<text transform="translate(1301.30 555.20) scale(0.81 1)" font-size="18" text-anchor="start" fill="#000" stroke="#000" stroke-width="0.3">Module</text>
<line x1="1186.00" y1="229.70" x2="1281.20" y2="159.40" stroke="#2e2e2e" stroke-width="1.0"/>
<line x1="1186.00" y1="265.40" x2="1282.00" y2="197.50" stroke="#2e2e2e" stroke-width="1.0"/>
<line x1="1186.00" y1="307.70" x2="1286.00" y2="235.00" stroke="#2e2e2e" stroke-width="1.0"/>
<line x1="1186.00" y1="360.00" x2="1281.00" y2="276.50" stroke="#2e2e2e" stroke-width="1.0"/>
<line x1="1186.00" y1="388.00" x2="1285.00" y2="313.70" stroke="#2e2e2e" stroke-width="1.0"/>
<line x1="1186.00" y1="402.60" x2="1283.60" y2="354.00" stroke="#2e2e2e" stroke-width="1.0"/>
<line x1="1186.00" y1="422.80" x2="1283.60" y2="391.50" stroke="#2e2e2e" stroke-width="1.0"/>
<line x1="1186.00" y1="451.90" x2="1288.00" y2="432.40" stroke="#2e2e2e" stroke-width="1.0"/>
<line x1="1186.00" y1="474.40" x2="1281.00" y2="470.20" stroke="#2e2e2e" stroke-width="1.0"/>
<line x1="1186.00" y1="503.50" x2="1283.60" y2="508.30" stroke="#2e2e2e" stroke-width="1.0"/>
<line x1="1184.70" y1="539.40" x2="1290.00" y2="548.80" stroke="#2e2e2e" stroke-width="1.0"/>
<text x="838.1" y="664.9" font-size="23.5" font-weight="bold" text-anchor="middle" fill="#000" letter-spacing="0.4">Figure 2. Q1 2021 U.S. benchmark: 7.15-kW residential PV system cost (2020 USD/W<tspan font-size="14.6" dy="3">DC</tspan><tspan dy="-3">)</tspan></text>
</svg>
</body>
</html>
